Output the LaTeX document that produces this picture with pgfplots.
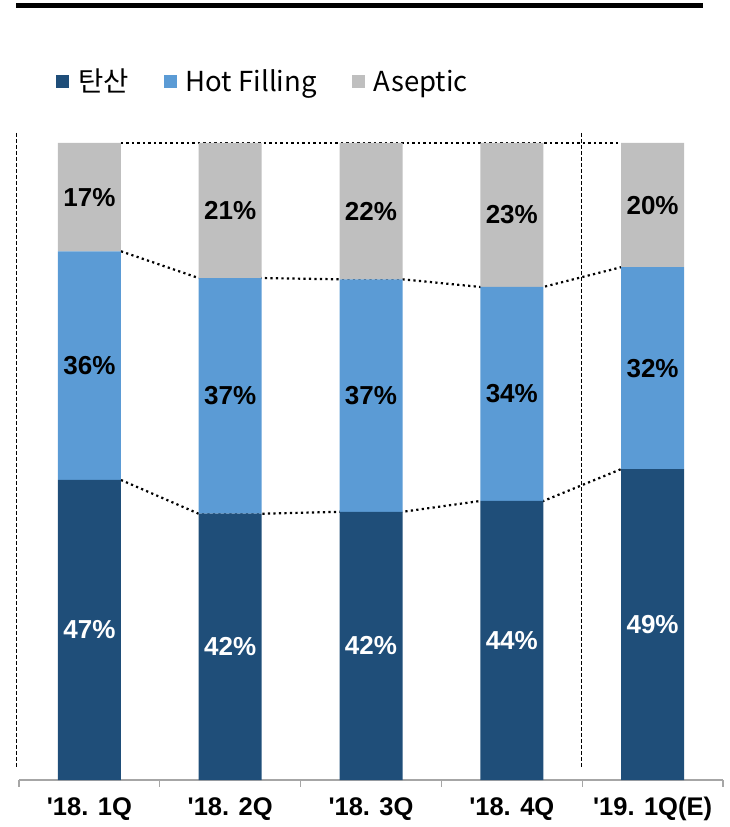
\documentclass[border=0pt]{standalone}
\usepackage{pgfplots}
\pgfplotsset{compat=1.18}
\usepackage{pgfplotstable}
\usepackage{fontspec}
\setmainfont{Liberation Sans}
\newfontfamily\arial{Liberation Sans}
\newfontfamily\cjk{Noto Sans CJK KR}
\definecolor{cdark}{HTML}{1F4E79}
\definecolor{cblue}{HTML}{5B9BD5}
\definecolor{cgray}{HTML}{BFBFBF}
\definecolor{caxis}{HTML}{A6A6A6}

\pgfplotstableread{
x v lab
0 47.1 47
1 41.8 42
2 42.1 42
3 43.8 44
4 48.8 49
}\darktab
\pgfplotstableread{
x v lab
0 35.9 36
1 37.0 37
2 36.5 37
3 33.6 34
4 31.7 32
}\bluetab
\pgfplotstableread{
x v lab
0 17.0 17
1 21.2 21
2 21.4 22
3 22.6 23
4 19.5 20
}\graytab

\pgfplotsset{
  mylegend/.style={legend image code/.code={\fill[##1,draw=none] (0pt,-6.5pt) rectangle (13pt,6.5pt);}},
  geom/.style={at={(19pt,47pt)}, anchor=south west, scale only axis,
    width=704pt, height=637pt, xmin=-0.5, xmax=4.5, ymin=0, ymax=100, clip=false},
}

\begin{document}
\begin{tikzpicture}
\useasboundingbox (0,0) rectangle (730pt,827pt);
\fill[black] (16pt,819pt) rectangle (703pt,824pt);
% connectors and separators
\begin{axis}[geom, hide axis]
\addplot[black, line width=2.2pt, dash pattern=on 2.2pt off 3.3pt] coordinates {
 (0.224,47.1) (0.776,41.8) (1.224,41.8) (1.776,42.1) (2.224,42.1) (2.776,43.8) (3.224,43.8) (3.776,48.8)};
\addplot[black, line width=2.2pt, dash pattern=on 2.2pt off 3.3pt] coordinates {
 (0.224,83.0) (0.776,78.8) (1.224,78.8) (1.776,78.6) (2.224,78.6) (2.776,77.4) (3.224,77.4) (3.776,80.5)};
\addplot[black, line width=2.2pt, dash pattern=on 2.2pt off 3.3pt] coordinates {
 (0.224,100) (3.776,100)};
\addplot[black, line width=1.2pt, dash pattern=on 4pt off 2pt] coordinates {(-0.518,101.6) (-0.518,2.0)};
\addplot[black, line width=1.2pt, dash pattern=on 4pt off 2pt] coordinates {(3.495,101.6) (3.495,2.0)};
\end{axis}
% bars
\begin{axis}[geom, ybar stacked, bar width=63pt,
  axis y line=none, axis x line*=bottom,
  x axis line style={caxis, line width=1.2pt, -},
  xtick={0,1,2,3,4},
  xticklabels={'18. 1Q,'18. 2Q,'18. 3Q,'18. 4Q,'19. 1Q(E)},
  major tick length=0pt,
  minor xtick={-0.5,0.5,1.5,2.5,3.5,4.5},
  minor tick length=7pt, tick align=outside,
  minor tick style={caxis, line width=1.2pt},
  xticklabel style={font=\arial\bfseries\fontsize{25.5}{25.5}\selectfont, anchor=north,
     inner sep=0pt, text height=18pt, text depth=0pt, yshift=-17pt},
  point meta=explicit symbolic,
  nodes near coords={\pgfplotspointmeta\%},
  every node near coord/.append style={font=\arial\bfseries\fontsize{26}{26}\selectfont,
     anchor=center},
  legend columns=3,
  legend cell align=left,
  legend style={at={(axis description cs:0.0526,1.097)}, anchor=west, draw=none, fill=none,
     inner sep=0pt, font=\cjk\fontsize{27.5}{27.5}\selectfont,
     /tikz/every odd column/.append style={column sep=7pt},
     /tikz/every even column/.append style={column sep=33pt}},
]
\addplot[fill=cdark, draw=none, mylegend, every node near coord/.append style={text=white}]
  table[x=x, y=v, meta=lab] {\darktab};
\addlegendentry{탄산}
\addplot[fill=cblue, draw=none, mylegend, every node near coord/.append style={text=black}]
  table[x=x, y=v, meta=lab] {\bluetab};
\addlegendentry{Hot Filling}
\addplot[fill=cgray, draw=none, mylegend, every node near coord/.append style={text=black}]
  table[x=x, y=v, meta=lab] {\graytab};
\addlegendentry{Aseptic}
\end{axis}
\end{tikzpicture}
\end{document}
